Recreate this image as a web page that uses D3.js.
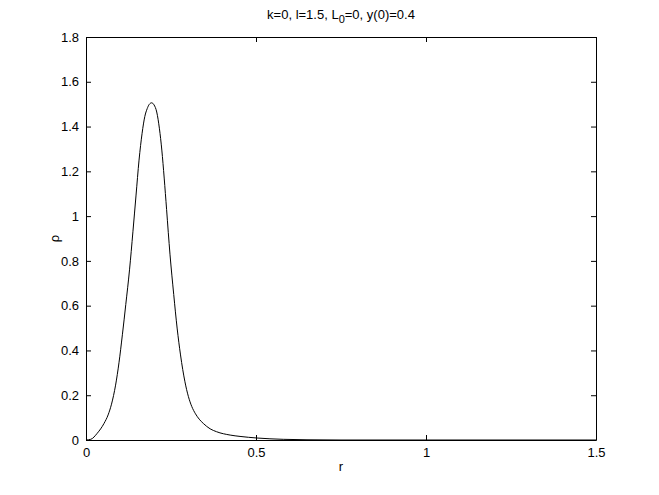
<!DOCTYPE html>
<html>
<head>
<meta charset="utf-8">
<script src="https://cdn.jsdelivr.net/npm/d3@7"></script>
<style>
  body { margin: 0; background: #fff; }
  text { font-family: "Liberation Sans", Arial, sans-serif; }
</style>
</head>
<body>
<div class="chart"></div>
<script>
// Radial density profile
var rValues = [0, 0.014, 0.033, 0.053, 0.065, 0.075, 0.087, 0.097, 0.107, 0.117, 0.128, 0.138, 0.147, 0.156, 0.165, 0.173,
  0.180, 0.186, 0.193, 0.200, 0.208, 0.216, 0.223, 0.230, 0.237, 0.247, 0.258, 0.268, 0.278, 0.291, 0.301, 0.311, 0.322,
  0.333, 0.345, 0.365, 0.384, 0.424, 0.453, 0.502, 0.58, 0.65, 0.75, 1.0, 1.5];
var rhoValues = [0, 0.003, 0.030, 0.074, 0.112, 0.160, 0.245, 0.345, 0.470, 0.605, 0.760, 0.930, 1.090, 1.250, 1.370, 1.445,
  1.480, 1.499, 1.506, 1.497, 1.465, 1.390, 1.295, 1.170, 1.030, 0.830, 0.650, 0.500, 0.380, 0.260, 0.195, 0.150, 0.117,
  0.093, 0.074, 0.050, 0.037, 0.022, 0.016, 0.009, 0.003, 0.001, 0, 0, 0];

var xTicks = [0, 0.5, 1, 1.5];
var yTicks = [0, 0.2, 0.4, 0.6, 0.8, 1, 1.2, 1.4, 1.6, 1.8];

var svgWidth = 659;
var svgHeight = 495;
var margin = { top: 37, right: 63, bottom: 55, left: 86 };
var width = svgWidth - margin.left - margin.right;
var height = svgHeight - margin.top - margin.bottom;

var svg = d3.select(".chart")
  .append("svg")
  .attr("width", svgWidth)
  .attr("height", svgHeight);

var chartGroup = svg.append("g")
  .attr("transform", `translate(${margin.left}, ${margin.top})`);

var xScale = d3.scaleLinear().domain([0, 1.5]).range([0, width]);
var yScale = d3.scaleLinear().domain([0, 1.8]).range([height, 0]);

var fmt = d => String(d);

// axes with inward ticks, mirrored on top/right
function styleAxis(g) {
  g.select(".domain").attr("stroke", "#000");
  g.selectAll(".tick line").attr("stroke", "#000");
  g.selectAll(".tick text").attr("font-size", "13px").attr("fill", "#000");
}

chartGroup.append("g")
  .attr("transform", `translate(0, ${height})`)
  .call(d3.axisBottom(xScale).tickValues(xTicks).tickFormat(fmt).tickSizeInner(-5).tickSizeOuter(0).tickPadding(8))
  .call(styleAxis);

chartGroup.append("g")
  .call(d3.axisTop(xScale).tickValues(xTicks).tickFormat("").tickSizeInner(-5).tickSizeOuter(0))
  .call(styleAxis);

chartGroup.append("g")
  .call(d3.axisLeft(yScale).tickValues(yTicks).tickFormat(fmt).tickSizeInner(-5).tickSizeOuter(0).tickPadding(7))
  .call(styleAxis);

chartGroup.append("g")
  .attr("transform", `translate(${width}, 0)`)
  .call(d3.axisRight(yScale).tickValues(yTicks).tickFormat("").tickSizeInner(-5).tickSizeOuter(0))
  .call(styleAxis);

// curve
var points = rValues.map((r, i) => [r, rhoValues[i]]);
var line = d3.line()
  .x(d => xScale(d[0]))
  .y(d => yScale(d[1]))
  .curve(d3.curveMonotoneX);

chartGroup.append("path")
  .datum(points)
  .attr("fill", "none")
  .attr("stroke", "#000")
  .attr("stroke-width", 1)
  .attr("d", line);

// title
var title = svg.append("text")
  .attr("x", margin.left + width / 2)
  .attr("y", 19)
  .attr("text-anchor", "middle")
  .attr("font-size", "13px");
title.append("tspan").text("k=0, l=1.5, L");
title.append("tspan").attr("dy", 4).attr("font-size", "11px").text("0");
title.append("tspan").attr("dy", -4).text("=0, y(0)=0.4");

// axis labels
svg.append("text")
  .attr("x", margin.left + width / 2)
  .attr("y", 471)
  .attr("text-anchor", "middle")
  .attr("font-size", "13px")
  .text("r");

svg.append("text")
  .attr("transform", `translate(59, ${margin.top + height / 2}) rotate(-90)`)
  .attr("text-anchor", "middle")
  .attr("font-size", "13px")
  .text("ρ");
</script>
</body>
</html>
